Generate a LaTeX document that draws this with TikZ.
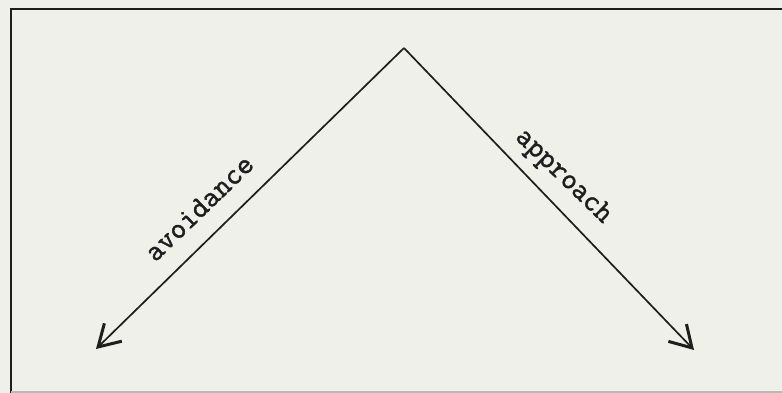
\documentclass[tikz,border=0pt]{standalone}
\usepackage{fontspec}
\newfontfamily\typewriter[FakeBold=1.5]{Latin Modern Mono}
\usetikzlibrary{arrows.meta}
\definecolor{paper}{RGB}{238,240,233}
\definecolor{ink}{RGB}{30,30,28}
\begin{document}
\begin{tikzpicture}[x=1pt,y=-1pt,
  frameline/.style={draw=ink,line width=2.8pt},
  arm/.style={draw=ink,line width=1.7pt,-{Straight Barb[length=21pt,width=25pt,line width=3pt]}},
  lbl/.style={font=\typewriter\fontsize{30}{30}\selectfont,text=ink,inner sep=0pt}]
\fill[paper] (0,0) rectangle (782,393);
\useasboundingbox (0,0) rectangle (782,393);
\coordinate (tl) at (11,9);
\coordinate (tr) at (782,9);
\coordinate (bl) at (11,393);
\draw[frameline] (tr) -- (tl) -- (bl);
\draw[draw=gray!55,line width=1.4pt] (11,392) -- (782,392);
\coordinate (apex) at (404,48);
\coordinate (left) at (96,349);
\coordinate (right) at (694,350);
\draw[arm] (apex) -- (left);
\draw[arm] (apex) -- (right);
\node[lbl,rotate=44] (avoid) at (199,208) {avoidance};
\node[lbl,rotate=-44] (appr) at (563,177) {approach};
\end{tikzpicture}
\end{document}
